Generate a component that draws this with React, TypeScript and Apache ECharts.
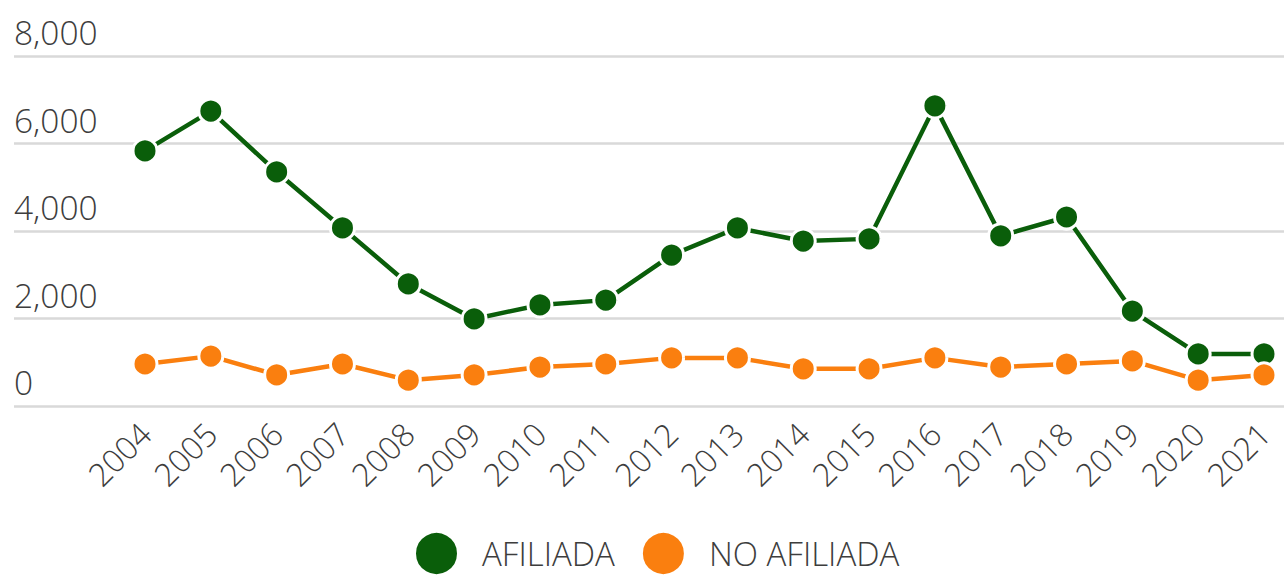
import React, { useEffect, useRef } from "react";
import * as echarts from "echarts";

const years = ["2004","2005","2006","2007","2008","2009","2010","2011","2012","2013","2014","2015","2016","2017","2018","2019","2020","2021"];
const afiliada = [5830, 6740, 5350, 4070, 2790, 1990, 2310, 2420, 3450, 4070, 3770, 3820, 6860, 3890, 4320, 2170, 1190, 1190];
const noAfiliada = [960, 1140, 710, 960, 590, 710, 890, 960, 1100, 1100, 850, 850, 1100, 890, 960, 1030, 590, 710];
const yTicks = [0, 2000, 4000, 6000, 8000];

const GREEN = "#0a5e0a";
const ORANGE = "#fa7f0f";
const FONT = "'Open Sans', sans-serif";
const TEXT = "#3d3d3d";

export default function App() {
  const ref = useRef<HTMLDivElement>(null);
  useEffect(() => {
    if (!ref.current) return;
    const chart = echarts.init(ref.current, null, { renderer: "svg" });
    const yMin = yTicks[0];
    const yMax = yTicks[yTicks.length - 1];
    const yInt = yTicks[1] - yTicks[0];
    chart.setOption({
      animation: false,
      backgroundColor: "#ffffff",
      grid: [
        { left: 14, right: 0, top: 56, height: 350 },
        { left: 145, right: 20, top: 56, height: 350 },
      ],
      xAxis: [
        { gridIndex: 0, type: "value", show: false, min: 0, max: 1 },
        {
          gridIndex: 1,
          type: "category",
          data: years,
          boundaryGap: false,
          axisLine: { show: false },
          axisTick: { show: false },
          axisLabel: {
            rotate: 45,
            margin: 22,
            color: TEXT,
            fontSize: 32,
            fontFamily: FONT,
            fontWeight: 300,
          },
        },
      ],
      yAxis: [
        {
          gridIndex: 0,
          type: "value",
          min: yMin,
          max: yMax,
          interval: yInt,
          axisLine: { show: false },
          axisTick: { show: false },
          splitLine: { show: true, lineStyle: { color: "#d9d9d9", width: 2.5 } },
          axisLabel: {
            inside: true,
            margin: 0,
            verticalAlign: "bottom",
            padding: [0, 0, 7, 0],
            color: TEXT,
            fontSize: 33.5,
            fontFamily: FONT,
            fontWeight: 300,
            formatter: (v: number) => v.toLocaleString("en-US"),
          },
        },
        {
          gridIndex: 1,
          type: "value",
          min: yMin,
          max: yMax,
          interval: yInt,
          show: false,
        },
      ],
      legend: {
        left: 414,
        top: 531,
        padding: 0,
        icon: "circle",
        itemWidth: 43,
        itemHeight: 43,
        itemGap: 26,
        textStyle: {
          color: TEXT,
          fontSize: 33,
          fontFamily: FONT,
          fontWeight: 300,
          padding: [0, 0, 0, 19],
        },
        data: ["AFILIADA", "NO AFILIADA"],
      },
      series: [
        {
          name: "AFILIADA",
          type: "line",
          xAxisIndex: 1,
          yAxisIndex: 1,
          data: afiliada,
          symbol: "circle",
          symbolSize: 24,
          lineStyle: { color: GREEN, width: 4.5 },
          itemStyle: { color: GREEN, borderColor: "#ffffff", borderWidth: 3 },
          z: 3,
        },
        {
          name: "NO AFILIADA",
          type: "line",
          xAxisIndex: 1,
          yAxisIndex: 1,
          data: noAfiliada,
          symbol: "circle",
          symbolSize: 24,
          lineStyle: { color: ORANGE, width: 4.5 },
          itemStyle: { color: ORANGE, borderColor: "#ffffff", borderWidth: 3 },
          z: 4,
        },
      ],
    });
    return () => chart.dispose();
  }, []);
  return (
    <div
      ref={ref}
      style={{ position: "fixed", left: 0, top: 0, width: 1284, height: 579 }}
    />
  );
}
